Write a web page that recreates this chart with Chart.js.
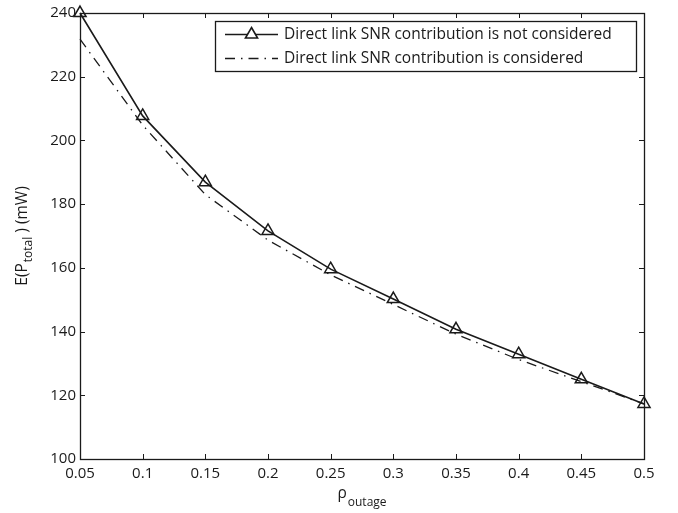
<!DOCTYPE html>
<html>
<head>
<meta charset="utf-8">
<script src="https://cdn.jsdelivr.net/npm/chart.js@4.4.1/dist/chart.umd.min.js"></script>
<style>
  html, body { margin: 0; padding: 0; background: #fff; }
</style>
</head>
<body>
<canvas id="myChart" width="678" height="513"></canvas>
<script>
// valores
const outage = [0.05, 0.1, 0.15, 0.2, 0.25, 0.3, 0.35, 0.4, 0.45, 0.5];
const notConsidered = [240, 207.7, 186.9, 171.6, 159.6, 150.2, 140.7, 132.9, 125.0, 117.3];
const considered = [231.8, 204.8, 183.0, 168.7, 157.8, 148.5, 139.2, 131.2, 124.3, 117.3];
const xTicks = [0.05, 0.1, 0.15, 0.2, 0.25, 0.3, 0.35, 0.4, 0.45, 0.5];
const yTicks = [100, 120, 140, 160, 180, 200, 220, 240];
const names = [
  "Direct link SNR contribution is not considered",
  "Direct link SNR contribution is considered"
];

const FONT = "'Open Sans', 'DejaVu Sans', sans-serif";
const INK = "#1a1a1a";

function puntos(xs, ys) {
  let out = [];
  for (let i = 0; i < xs.length; i++) {
    out.push({ x: xs[i], y: ys[i] });
  }
  return out;
}

// marco, ticks hacia dentro, titulos y leyenda al estilo matlab
const marco = {
  id: "marco",
  beforeDatasetsDraw(chart) {
    const ctx = chart.ctx;
    const a = chart.chartArea;
    const sx = chart.scales.x;
    const sy = chart.scales.y;
    ctx.save();
    ctx.strokeStyle = INK;
    ctx.lineWidth = 1.3;
    ctx.strokeRect(a.left + 0.5, a.top + 0.5, a.right - a.left, a.bottom - a.top);
    ctx.lineWidth = 1;
    ctx.beginPath();
    xTicks.forEach(v => {
      const px = Math.round(sx.getPixelForValue(v)) + 0.5;
      ctx.moveTo(px, a.bottom); ctx.lineTo(px, a.bottom - 5);
      ctx.moveTo(px, a.top); ctx.lineTo(px, a.top + 5);
    });
    yTicks.forEach(v => {
      const py = Math.round(sy.getPixelForValue(v)) + 0.5;
      ctx.moveTo(a.left, py); ctx.lineTo(a.left + 5, py);
      ctx.moveTo(a.right, py); ctx.lineTo(a.right - 5, py);
    });
    ctx.stroke();
    ctx.restore();
  },
  afterDraw(chart) {
    const ctx = chart.ctx;
    const a = chart.chartArea;
    ctx.save();
    ctx.fillStyle = INK;
    ctx.textBaseline = "alphabetic";

    // titulo eje x: rho_outage
    const big = "15.5px " + FONT, small = "12px " + FONT;
    ctx.font = big;
    const wr = ctx.measureText("\u03C1").width;
    ctx.font = small;
    const wo = ctx.measureText("outage").width;
    let x0 = (a.left + a.right) / 2 - (wr + wo + 1) / 2;
    ctx.font = big;
    ctx.fillText("\u03C1", x0, 498);
    ctx.font = small;
    ctx.fillText("outage", x0 + wr + 1, 506);

    // titulo eje y: E(P_total) (mW)
    ctx.save();
    ctx.translate(27, (a.top + a.bottom) / 2);
    ctx.rotate(-Math.PI / 2);
    ctx.font = big;
    const w1 = ctx.measureText("E(P").width;
    const w3 = ctx.measureText(" ) (mW)").width;
    ctx.font = small;
    const w2 = ctx.measureText("total").width;
    let t0 = -(w1 + w2 + w3 + 1) / 2;
    ctx.font = big;
    ctx.fillText("E(P", t0, 0);
    ctx.font = small;
    ctx.fillText("total", t0 + w1 + 1, 5);
    ctx.font = big;
    ctx.fillText(" ) (mW)", t0 + w1 + 1 + w2, 0);
    ctx.restore();

    // leyenda con recuadro
    const lx = 215, ly = 21, lw = 421, lh = 50;
    ctx.fillStyle = "#fff";
    ctx.fillRect(lx, ly, lw, lh);
    ctx.strokeStyle = INK;
    ctx.lineWidth = 1.3;
    ctx.strokeRect(lx + 0.5, ly + 0.5, lw, lh);
    const filas = [34.5, 58.5];
    chart.data.datasets.forEach((ds, i) => {
      const y = filas[i];
      ctx.save();
      ctx.strokeStyle = ds.borderColor;
      ctx.lineWidth = ds.borderWidth;
      ctx.setLineDash(ds.borderDash || []);
      ctx.beginPath();
      ctx.moveTo(225, y); ctx.lineTo(278, y);
      ctx.stroke();
      ctx.setLineDash([]);
      if (ds.pointRadius > 0) {
        ctx.fillStyle = "#fff";
        ctx.strokeStyle = INK;
        Chart.helpers.drawPoint(ctx, {
          pointStyle: ds.pointStyle, radius: ds.pointRadius,
          borderWidth: ds.pointBorderWidth, rotation: 0
        }, 251.5, y);
      }
      ctx.restore();
      ctx.fillStyle = INK;
      ctx.font = "15.5px " + FONT;
      ctx.textBaseline = "middle";
      ctx.fillText(ds.label, 284, y);
    });
    ctx.restore();
  }
};

const ctx = document.getElementById("myChart").getContext("2d");
const myChart = new Chart(ctx, {
  type: "line",
  data: {
    datasets: [
      {
        label: names[0],
        data: puntos(outage, notConsidered),
        borderColor: INK,
        borderWidth: 1.6,
        pointStyle: "triangle",
        pointRadius: 7,
        pointBorderWidth: 1.5,
        pointBackgroundColor: "rgba(255,255,255,0)",
        pointBorderColor: INK,
        tension: 0,
        clip: false,
      },
      {
        label: names[1],
        data: puntos(outage, considered),
        borderColor: INK,
        borderWidth: 1.3,
        borderDash: [10, 6, 1.5, 6],
        pointRadius: 0,
        tension: 0,
        clip: false,
      },
    ],
  },
  options: {
    responsive: false,
    animation: false,
    layout: { padding: { left: 0, right: 34, top: 13, bottom: 0 } },
    plugins: {
      legend: { display: false },
      tooltip: { enabled: false },
    },
    scales: {
      x: {
        type: "linear",
        min: 0.05,
        max: 0.5,
        afterBuildTicks: s => { s.ticks = xTicks.map(v => ({ value: v })); },
        afterFit: s => { s.height = 54; },
        grid: { display: false, drawTicks: false },
        border: { display: false },
        ticks: {
          padding: 6,
          color: INK,
          font: { family: FONT, size: 15 },
          callback: v => String(+v.toFixed(2)),
        },
      },
      y: {
        min: 100,
        max: 240,
        afterBuildTicks: s => { s.ticks = yTicks.map(v => ({ value: v })); },
        afterFit: s => { s.width = 80; },
        grid: { display: false, drawTicks: false },
        border: { display: false },
        ticks: {
          padding: 4,
          color: INK,
          font: { family: FONT, size: 15 },
        },
      },
    },
  },
  plugins: [marco],
});
</script>
</body>
</html>
